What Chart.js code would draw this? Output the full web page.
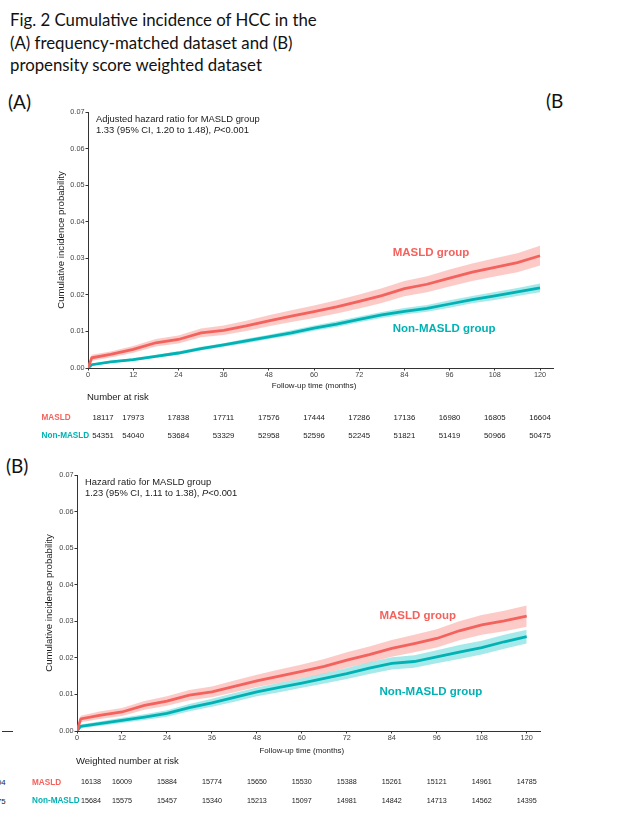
<!DOCTYPE html>
<html>
<head>
<meta charset="utf-8">
<script src="https://cdn.jsdelivr.net/npm/chart.js@4.4.1/dist/chart.umd.min.js"></script>
<style>
    body {
        margin: 0;
        width: 638px;
        height: 836px;
        background: #fff;
        position: relative;
        overflow: hidden;
        font-family: Lato, sans-serif;
        color: #111;
    }
    .txt {
        position: absolute;
        white-space: nowrap;
    }
    .panel {
        position: absolute;
        left: 0;
    }
    .edge {
        position: absolute;
        font: 7.8px "Liberation Sans";
        color: #222;
    }
</style>
</head>
<body>
<div class="txt" style="left:10px;top:9px;font-size:16.8px;line-height:22.5px">
    Fig. 2 Cumulative incidence of HCC in the<br>
    (A) frequency-matched dataset and (B)<br>
    propensity score weighted dataset
</div>
<div class="txt" style="left:8px;top:90px;font-size:19px">(A)</div>
<div class="txt" style="left:546px;top:89px;font-size:19px">(B</div>
<div class="txt" style="left:6px;top:454px;font-size:19px">(B)</div>

<div class="edge" style="left:2px;top:731px;width:11px;border-top:1px solid #333"></div>
<div class="edge" style="left:-3px;top:778px">04</div>
<div class="edge" style="left:-3px;top:797px">75</div>

<div class="panel" style="top:100px"><canvas id="chartA" width="600" height="345"></canvas></div>
<div class="panel" style="top:460px"><canvas id="chartB" width="600" height="355"></canvas></div>

<script>
// follow-up months at which the curves were read
const times = [0, 1, 6, 12, 18, 24, 30, 36, 42, 48, 54, 60, 66, 72, 78, 84, 90, 96, 102, 108, 114, 120];

// (A) frequency-matched dataset
const maslA = [0, 0.0028, 0.0037, 0.0051, 0.0069, 0.0078, 0.0096, 0.0103, 0.0115, 0.0129, 0.0142, 0.0154, 0.0167, 0.0182, 0.0198, 0.0217, 0.0229, 0.0246, 0.0262, 0.0275, 0.0288, 0.0307];
const maslAHi = [0, 0.0036, 0.0045, 0.0060, 0.0079, 0.0089, 0.0108, 0.0116, 0.0129, 0.0144, 0.0158, 0.0171, 0.0185, 0.0201, 0.0218, 0.0238, 0.0251, 0.0269, 0.0286, 0.0300, 0.0314, 0.0334];
const maslALo = [0, 0.0020, 0.0029, 0.0042, 0.0059, 0.0067, 0.0084, 0.0090, 0.0101, 0.0114, 0.0126, 0.0137, 0.0149, 0.0163, 0.0178, 0.0196, 0.0207, 0.0223, 0.0238, 0.0250, 0.0262, 0.0280];
const nonA = [0, 0.0009, 0.0017, 0.0023, 0.0032, 0.0041, 0.0053, 0.0063, 0.0074, 0.0085, 0.0096, 0.0109, 0.0120, 0.0133, 0.0145, 0.0155, 0.0163, 0.0175, 0.0187, 0.0197, 0.0208, 0.0219];
const nonAHi = [0, 0.0012, 0.0020, 0.0027, 0.0036, 0.0046, 0.0058, 0.0068, 0.0080, 0.0091, 0.0103, 0.0116, 0.0128, 0.0141, 0.0153, 0.0164, 0.0172, 0.0185, 0.0197, 0.0208, 0.0219, 0.0231];
const nonALo = [0, 0.0006, 0.0014, 0.0019, 0.0028, 0.0036, 0.0048, 0.0058, 0.0068, 0.0079, 0.0089, 0.0102, 0.0112, 0.0125, 0.0137, 0.0146, 0.0154, 0.0165, 0.0177, 0.0186, 0.0197, 0.0207];

// (B) propensity score weighted dataset
const maslB = [0, 0.0033, 0.0043, 0.0052, 0.0070, 0.0082, 0.0098, 0.0107, 0.0122, 0.0137, 0.0150, 0.0163, 0.0177, 0.0194, 0.0209, 0.0226, 0.0239, 0.0253, 0.0274, 0.0290, 0.0301, 0.0314];
const maslBHi = [0, 0.0042, 0.0053, 0.0063, 0.0082, 0.0095, 0.0112, 0.0122, 0.0138, 0.0154, 0.0168, 0.0182, 0.0197, 0.0215, 0.0231, 0.0249, 0.0263, 0.0278, 0.0300, 0.0317, 0.0329, 0.0343];
const maslBLo = [0, 0.0024, 0.0033, 0.0041, 0.0058, 0.0069, 0.0084, 0.0092, 0.0106, 0.0120, 0.0132, 0.0144, 0.0157, 0.0173, 0.0187, 0.0203, 0.0215, 0.0228, 0.0248, 0.0263, 0.0273, 0.0285];
const nonB = [0, 0.0013, 0.0020, 0.0029, 0.0038, 0.0048, 0.0064, 0.0077, 0.0092, 0.0107, 0.0119, 0.0131, 0.0144, 0.0157, 0.0172, 0.0185, 0.0190, 0.0203, 0.0216, 0.0228, 0.0244, 0.0258];
const nonBHi = [0, 0.0018, 0.0026, 0.0036, 0.0046, 0.0057, 0.0074, 0.0088, 0.0104, 0.0119, 0.0132, 0.0144, 0.0158, 0.0172, 0.0188, 0.0202, 0.0207, 0.0221, 0.0235, 0.0247, 0.0263, 0.0277];
const nonBLo = [0, 0.0008, 0.0014, 0.0022, 0.0030, 0.0039, 0.0054, 0.0066, 0.0080, 0.0095, 0.0106, 0.0118, 0.0130, 0.0142, 0.0156, 0.0168, 0.0173, 0.0185, 0.0197, 0.0209, 0.0225, 0.0239];

// axis ticks
const xTicks = [0, 12, 24, 36, 48, 60, 72, 84, 96, 108, 120];
const yTicks = [0, 0.01, 0.02, 0.03, 0.04, 0.05, 0.06, 0.07];

// numbers at risk, one per x tick
const riskMaslA = [18117, 17973, 17838, 17711, 17576, 17444, 17286, 17136, 16980, 16805, 16604];
const riskNonA = [54351, 54040, 53684, 53329, 52958, 52596, 52245, 51821, 51419, 50966, 50475];
const riskMaslB = [16138, 16009, 15884, 15774, 15650, 15530, 15388, 15261, 15121, 14961, 14785];
const riskNonB = [15684, 15575, 15457, 15340, 15213, 15097, 14981, 14842, 14713, 14562, 14395];

const RED = "#f4625d";
const RED_BAND = "rgba(248, 118, 109, 0.38)";
const TEAL = "#00b2b4";
const TEAL_BAND = "rgba(0, 191, 196, 0.35)";
const AXIS = "#333333";
const TICK_TEXT = "#444444";
const SANS = "'Liberation Sans', Arial, sans-serif";

function points(values) {
    return times.map((t, i) => ({ x: t, y: values[i] }));
}

const panelText = {
    id: "panelText",
    afterDraw(chart, args, opts) {
        const { ctx, chartArea: area } = chart;
        const x = chart.scales.x;
        const y = chart.scales.y;

        ctx.save();
        ctx.textBaseline = "middle";
        ctx.textAlign = "left";
        ctx.fillStyle = "#1a1a1a";

        // hazard ratio note
        const nx = area.left + 8;
        ctx.font = `9.4px ${SANS}`;
        ctx.fillText(opts.note[0], nx, area.top + 7.5);
        let cx = nx;
        const ny = area.top + 18.5;
        ctx.fillText(opts.note[1], cx, ny);
        cx += ctx.measureText(opts.note[1]).width;
        ctx.font = `italic 9.4px ${SANS}`;
        ctx.fillText("P", cx, ny);
        cx += ctx.measureText("P").width;
        ctx.font = `9.4px ${SANS}`;
        ctx.fillText(opts.note[2], cx, ny);

        // group labels next to the curves
        ctx.font = `bold 11.5px ${SANS}`;
        opts.groups.forEach(g => {
            ctx.fillStyle = g.color;
            ctx.fillText(
                g.text,
                x.getPixelForValue(g.at[0]),
                y.getPixelForValue(g.at[1])
            );
        });

        // y title
        ctx.save();
        ctx.translate(opts.yTitleX, (area.top + area.bottom) / 2);
        ctx.rotate(-Math.PI / 2);
        ctx.textAlign = "center";
        ctx.fillStyle = "#1a1a1a";
        ctx.font = `9.6px ${SANS}`;
        ctx.fillText("Cumulative incidence probability", 0, 0);
        ctx.restore();

        // x title
        ctx.textAlign = "center";
        ctx.fillStyle = "#1a1a1a";
        ctx.font = `7.9px ${SANS}`;
        ctx.fillText(
            "Follow-up time (months)",
            x.getPixelForValue(60),
            area.bottom + opts.xTitleDy
        );

        // risk table
        ctx.textAlign = "left";
        ctx.font = `9.5px ${SANS}`;
        ctx.fillText(opts.riskTitle, area.left - 1, area.bottom + opts.riskDy[0]);

        opts.rows.forEach((row, r) => {
            const ry = area.bottom + opts.riskDy[r + 1];
            ctx.textAlign = "left";
            ctx.fillStyle = row.color;
            ctx.font = `bold 8.2px ${SANS}`;
            ctx.fillText(row.label, area.left + opts.labelDx, ry);

            ctx.textAlign = "center";
            ctx.fillStyle = "#1a1a1a";
            ctx.font = `${opts.numSize}px ${SANS}`;
            row.values.forEach((v, i) => {
                let px = x.getPixelForValue(xTicks[i]);
                if (i === 0) {
                    px += opts.firstDx;
                }
                ctx.fillText(String(v), px, ry);
            });
        });

        ctx.restore();
    }
};

function makePanel(canvasId, cfg) {
    const datasets = [
        { data: points(cfg.masl), borderColor: RED, borderWidth: 2.8, fill: false },
        { data: points(cfg.non), borderColor: TEAL, borderWidth: 2.8, fill: false },
        { data: points(cfg.maslHi), borderWidth: 0, backgroundColor: RED_BAND, fill: "+1" },
        { data: points(cfg.maslLo), borderWidth: 0, fill: false },
        { data: points(cfg.nonHi), borderWidth: 0, backgroundColor: TEAL_BAND, fill: "+1" },
        { data: points(cfg.nonLo), borderWidth: 0, fill: false }
    ];

    const tickFont = { family: SANS, size: 7.3 };

    new Chart(document.getElementById(canvasId), {
        type: "line",
        data: { datasets },
        plugins: [panelText],
        options: {
            responsive: false,
            animation: false,
            events: [],
            layout: {
                padding: { left: 0, top: cfg.padTop, right: cfg.padRight, bottom: 0 }
            },
            elements: {
                point: { radius: 0 },
                line: { tension: 0 }
            },
            plugins: {
                legend: { display: false },
                tooltip: { enabled: false },
                filler: { propagate: false },
                panelText: cfg.text
            },
            scales: {
                x: {
                    type: "linear",
                    min: 0,
                    max: cfg.xMax,
                    afterBuildTicks: s => {
                        s.ticks = xTicks.map(v => ({ value: v }));
                    },
                    afterFit: s => {
                        s.height = cfg.xAxisHeight;
                    },
                    ticks: {
                        font: tickFont,
                        color: TICK_TEXT,
                        padding: 0,
                        maxRotation: 0,
                        autoSkip: false
                    },
                    grid: {
                        drawOnChartArea: false,
                        drawTicks: true,
                        tickLength: 2.5,
                        color: AXIS
                    },
                    border: { display: true, color: AXIS, width: 1 }
                },
                y: {
                    type: "linear",
                    min: 0,
                    max: 0.07,
                    afterBuildTicks: s => {
                        s.ticks = yTicks.map(v => ({ value: v }));
                    },
                    afterFit: s => {
                        s.width = cfg.yAxisWidth;
                    },
                    ticks: {
                        font: tickFont,
                        color: TICK_TEXT,
                        padding: 1,
                        callback: v => Number(v).toFixed(2)
                    },
                    grid: {
                        drawOnChartArea: false,
                        drawTicks: true,
                        tickLength: 2.5,
                        color: AXIS
                    },
                    border: { display: true, color: AXIS, width: 1 }
                }
            }
        }
    });
}

makePanel("chartA", {
    masl: maslA, maslHi: maslAHi, maslLo: maslALo,
    non: nonA, nonHi: nonAHi, nonLo: nonALo,
    padTop: 12,
    padRight: 47,
    yAxisWidth: 88,
    xAxisHeight: 77,
    xMax: 123.45,
    text: {
        note: [
            "Adjusted hazard ratio for MASLD group",
            "1.33 (95% CI, 1.20 to 1.48), ",
            "<0.001"
        ],
        groups: [
            { text: "MASLD group", color: RED, at: [80.9, 0.0315] },
            { text: "Non-MASLD group", color: TEAL, at: [80.9, 0.01075] }
        ],
        yTitleX: 61,
        xTitleDy: 17.7,
        riskTitle: "Number at risk",
        riskDy: [29.7, 50, 68],
        labelDx: -46.5,
        firstDx: 15,
        numSize: 7.8,
        rows: [
            { label: "MASLD", color: RED, values: riskMaslA },
            { label: "Non-MASLD", color: TEAL, values: riskNonA }
        ]
    }
});

makePanel("chartB", {
    masl: maslB, maslHi: maslBHi, maslLo: maslBLo,
    non: nonB, nonHi: nonBHi, nonLo: nonBLo,
    padTop: 15,
    padRight: 60,
    yAxisWidth: 77,
    xAxisHeight: 84,
    xMax: 123.55,
    text: {
        note: [
            "Hazard ratio for MASLD group",
            "1.23 (95% CI, 1.11 to 1.38), ",
            "<0.001"
        ],
        groups: [
            { text: "MASLD group", color: RED, at: [80.7, 0.03145] },
            { text: "Non-MASLD group", color: TEAL, at: [80.7, 0.01058] }
        ],
        yTitleX: 49.3,
        xTitleDy: 20,
        riskTitle: "Weighted number at risk",
        riskDy: [30, 51.5, 70],
        labelDx: -45,
        firstDx: 14,
        numSize: 7.2,
        rows: [
            { label: "MASLD", color: RED, values: riskMaslB },
            { label: "Non-MASLD", color: TEAL, values: riskNonB }
        ]
    }
});
</script>
</body>
</html>
